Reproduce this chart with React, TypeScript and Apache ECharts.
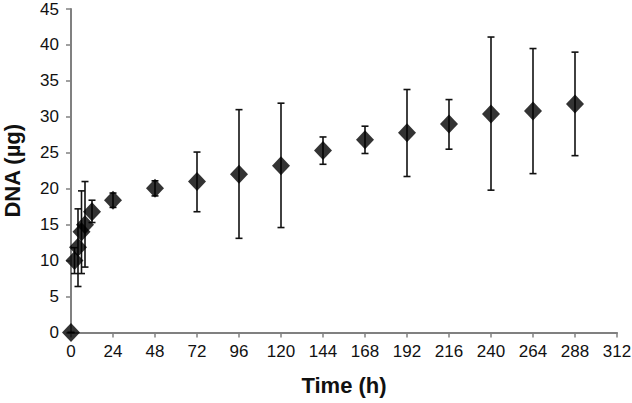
import React, { useEffect, useRef } from "react";
import * as echarts from "echarts";

const times = [0, 2, 4, 6, 8, 12, 24, 48, 72, 96, 120, 144, 168, 192, 216, 240, 264, 288];
const dnaMean = [0, 10.0, 11.85, 14.0, 15.0, 16.8, 18.4, 20.05, 21.0, 22.0, 23.2, 25.3, 26.8, 27.8, 29.0, 30.4, 30.8, 31.8];
const errLow = [0, 8.2, 6.4, 8.2, 9.1, 15.3, 17.4, 19.0, 16.8, 13.1, 14.6, 23.4, 24.9, 21.7, 25.5, 19.8, 22.1, 24.6];
const errHigh = [0, 11.8, 17.2, 19.7, 21.0, 18.4, 19.4, 21.1, 25.1, 31.0, 31.9, 27.2, 28.7, 33.8, 32.4, 41.1, 39.5, 39.0];
const xTicks = [0, 24, 48, 72, 96, 120, 144, 168, 192, 216, 240, 264, 288, 312];
const yTicks = [0, 5, 10, 15, 20, 25, 30, 35, 40, 45];

export default function App() {
  const ref = useRef<HTMLDivElement>(null);
  useEffect(() => {
    if (!ref.current) return;
    const chart = echarts.init(ref.current, null, { renderer: "svg" });
    const points = times.map((t, i) => [t, dnaMean[i]]);
    const errs = times.map((t, i) => [t, errLow[i], errHigh[i]]);
    chart.setOption({
      animation: false,
      backgroundColor: "#ffffff",
      grid: { left: 71, right: 15, top: 9, bottom: 70.5, containLabel: false, outerBoundsMode: "none" },
      xAxis: {
        type: "value",
        min: xTicks[0],
        max: xTicks[xTicks.length - 1],
        interval: 24,
        name: "Time (h)",
        nameLocation: "middle",
        nameGap: 42,
        nameTextStyle: { fontFamily: "Liberation Sans", fontWeight: "bold", fontSize: 22, color: "#111" },
        axisLine: { lineStyle: { color: "#808080", width: 2 } },
        axisTick: { show: true, inside: false, length: 5, lineStyle: { color: "#808080", width: 1.5 } },
        axisLabel: { fontFamily: "Liberation Sans", fontSize: 17, color: "#111", margin: 10 },
        splitLine: { show: false },
      },
      yAxis: {
        type: "value",
        min: yTicks[0],
        max: yTicks[yTicks.length - 1],
        interval: 5,
        name: "DNA (µg)",
        nameLocation: "middle",
        nameGap: 48,
        nameRotate: 90,
        nameTextStyle: { fontFamily: "Liberation Sans", fontWeight: "bold", fontSize: 22, color: "#111" },
        axisLine: { show: true, lineStyle: { color: "#808080", width: 2 } },
        axisTick: { show: true, inside: false, length: 5, lineStyle: { color: "#808080", width: 1.5 } },
        axisLabel: { fontFamily: "Liberation Sans", fontSize: 17, color: "#111", margin: 12 },
        splitLine: { show: false },
      },
      series: [
        {
          type: "custom",
          data: errs,
          z: 2,
          renderItem: (params: any, api: any) => {
            const x = api.value(0);
            const lo = api.coord([x, api.value(1)]);
            const hi = api.coord([x, api.value(2)]);
            const cap = 3.5;
            const style = { stroke: "#111", lineWidth: 1.6, fill: "none" };
            return {
              type: "group",
              children: [
                { type: "line", shape: { x1: lo[0], y1: lo[1], x2: hi[0], y2: hi[1] }, style },
                { type: "line", shape: { x1: lo[0] - cap, y1: lo[1], x2: lo[0] + cap, y2: lo[1] }, style },
                { type: "line", shape: { x1: hi[0] - cap, y1: hi[1], x2: hi[0] + cap, y2: hi[1] }, style },
              ],
            };
          },
        },
        {
          type: "scatter",
          data: points,
          symbol: "diamond",
          symbolSize: [18, 19],
          itemStyle: { color: "#000" },
          z: 3,
        },
      ],
    });
    return () => chart.dispose();
  }, []);
  return (
    <div
      ref={ref}
      style={{ position: "fixed", left: 0, top: 0, width: 632, height: 403, background: "#fff" }}
    />
  );
}
